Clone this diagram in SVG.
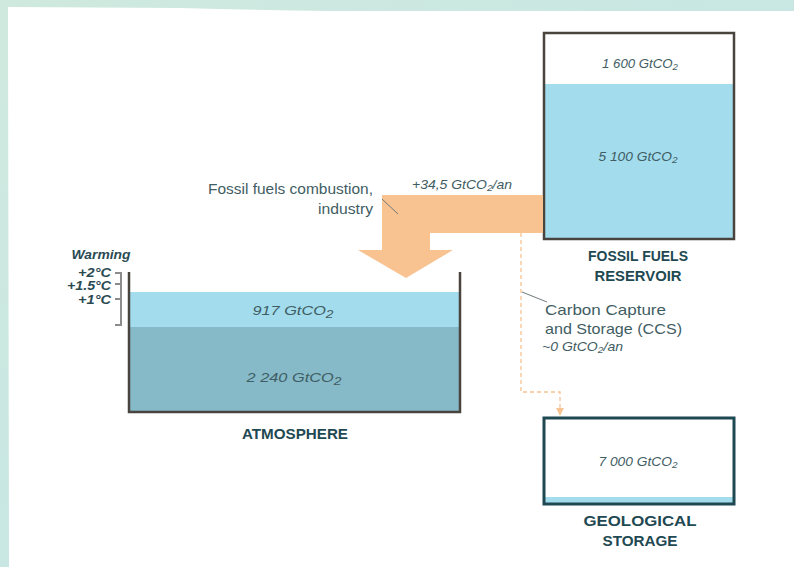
<svg xmlns="http://www.w3.org/2000/svg" width="794" height="567" viewBox="0 0 794 567">
<defs>
<linearGradient id="bg" x1="0" y1="0" x2="1" y2="1">
<stop offset="0" stop-color="#cfe9de"/>
<stop offset="1" stop-color="#c2e5e8"/>
</linearGradient>
<marker id="arr" viewBox="0 0 10 10" refX="9" refY="5" markerWidth="6" markerHeight="6" orient="auto">
<path d="M0,0 L10,5 L0,10 z" fill="#f8c291"/>
</marker>
<style>
.val{font-family:"Liberation Sans",Arial,sans-serif;font-style:italic;font-size:13px;fill:#3f5d63}
.lbl{font-family:"Liberation Sans",Arial,sans-serif;font-size:15px;fill:#3f5d63}
.head{font-family:"Liberation Sans",Arial,sans-serif;font-weight:bold;font-size:15.5px;fill:#1f4952}
.warm{font-family:"Liberation Sans",Arial,sans-serif;font-weight:bold;font-style:italic;font-size:12.5px;fill:#2a4a52}
.wall{fill:none;stroke:#4a443f;stroke-width:2.5}
.tick{fill:none;stroke:#8c8c8c;stroke-width:2}
.lead{fill:none;stroke:#6f7a7c;stroke-width:1}
</style>
</defs>
<rect width="794" height="567" fill="url(#bg)"/>
<path d="M8,7 L180,8 Q260,10 330,11 L794,11 L794,567 L9,567 Z" fill="#ffffff"/>

<g id="fossil-reservoir">
<rect x="544" y="84" width="190" height="155" fill="#a2dced"/>
<rect x="544" y="33" width="190" height="206" class="wall"/>
<text class="val" x="640" y="68" text-anchor="middle" textLength="76" lengthAdjust="spacingAndGlyphs">1 600 GtCO<tspan font-size="9.5" dy="2">2</tspan></text>
<text class="val" x="638" y="161" text-anchor="middle" textLength="79" lengthAdjust="spacingAndGlyphs">5 100 GtCO<tspan font-size="9.5" dy="2">2</tspan></text>
<text class="head" x="638" y="261" text-anchor="middle" textLength="100" lengthAdjust="spacingAndGlyphs">FOSSIL FUELS</text>
<text class="head" x="638" y="281" text-anchor="middle" textLength="87" lengthAdjust="spacingAndGlyphs">RESERVOIR</text>
</g>

<g id="atmosphere">
<rect x="129" y="292" width="331" height="35" fill="#a2dced"/>
<rect x="129" y="327" width="331" height="85" fill="#86bac8"/>
<path d="M129,272 L129,412 L460,412 L460,272" class="wall"/>
<text class="val" x="293" y="315" text-anchor="middle" font-size="15.5" textLength="81" lengthAdjust="spacingAndGlyphs">917 GtCO<tspan font-size="11" dy="3">2</tspan></text>
<text class="val" x="294" y="382" text-anchor="middle" font-size="15.5" textLength="95" lengthAdjust="spacingAndGlyphs">2 240 GtCO<tspan font-size="11" dy="3">2</tspan></text>
<text class="head" x="295" y="439" text-anchor="middle" textLength="106" lengthAdjust="spacingAndGlyphs">ATMOSPHERE</text>
</g>

<g id="warming">
<path d="M115,273 L121,273 L121,325 L115,325 M115,284 L121,284 M115,299 L121,299" class="tick"/>
<text class="warm" x="101" y="259" text-anchor="middle" textLength="59" lengthAdjust="spacingAndGlyphs">Warming</text>
<text class="warm" x="111" y="277" text-anchor="end" textLength="33" lengthAdjust="spacingAndGlyphs">+2°C</text>
<text class="warm" x="111" y="290" text-anchor="end" textLength="44" lengthAdjust="spacingAndGlyphs">+1.5°C</text>
<text class="warm" x="111" y="304" text-anchor="end" textLength="33" lengthAdjust="spacingAndGlyphs">+1°C</text>
</g>

<g id="geological-storage">
<rect x="544" y="497" width="190" height="7" fill="#a2dced"/>
<rect x="544" y="418" width="190" height="86" fill="none" stroke="#1f4952" stroke-width="3"/>
<text class="val" x="638" y="466" text-anchor="middle" textLength="79" lengthAdjust="spacingAndGlyphs">7 000 GtCO<tspan font-size="9.5" dy="2">2</tspan></text>
<text class="head" x="640" y="526" text-anchor="middle" textLength="113" lengthAdjust="spacingAndGlyphs">GEOLOGICAL</text>
<text class="head" x="640" y="546" text-anchor="middle" textLength="75" lengthAdjust="spacingAndGlyphs">STORAGE</text>
</g>

<g id="connectors">
<path d="M543,195 L382,195 L382,250 L358,250 L406,278 L453,250 L430,250 L430,233 L543,233 Z" fill="#f8c291"/>
<path d="M521,233 L521,392 L560,392 L560,415" fill="none" stroke="#f8c291" stroke-width="1.3" stroke-dasharray="4,3" marker-end="url(#arr)"/>
<path d="M382,199 L398,214" class="lead"/>
<path d="M522,292 L547,302" class="lead"/>
</g>

<g id="labels">
<text class="lbl" x="373" y="194" text-anchor="end" textLength="165" lengthAdjust="spacingAndGlyphs">Fossil fuels combustion,</text>
<text class="lbl" x="373" y="214" text-anchor="end" textLength="55" lengthAdjust="spacingAndGlyphs">industry</text>
<text class="val" x="462" y="189" text-anchor="middle" textLength="100" lengthAdjust="spacingAndGlyphs">+34,5 GtCO<tspan font-size="9.5" dy="2">2</tspan><tspan dy="-2">/an</tspan></text>
<text class="lbl" x="545" y="315" textLength="121" lengthAdjust="spacingAndGlyphs">Carbon Capture</text>
<text class="lbl" x="545" y="334" textLength="137" lengthAdjust="spacingAndGlyphs">and Storage (CCS)</text>
<text class="val" x="542" y="351" textLength="81" lengthAdjust="spacingAndGlyphs">~0 GtCO<tspan font-size="9.5" dy="2">2</tspan><tspan dy="-2">/an</tspan></text>
</g>
</svg>
